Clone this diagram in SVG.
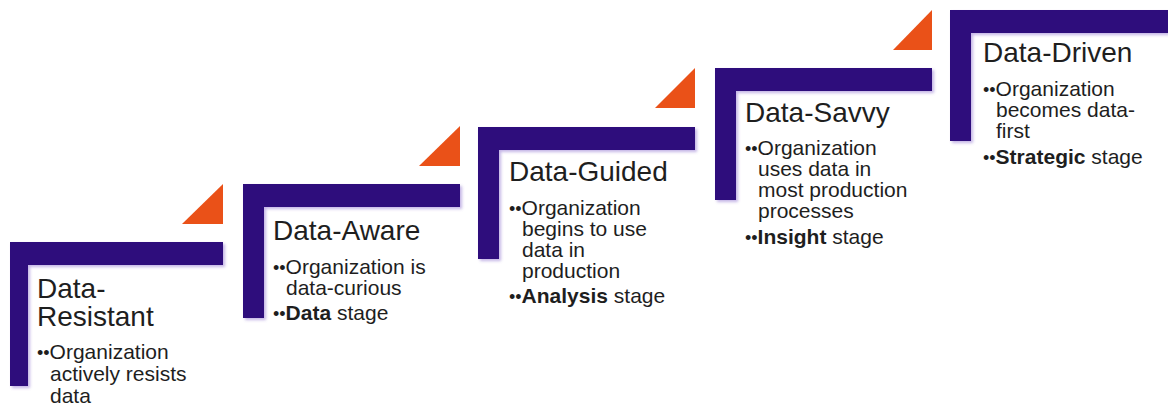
<svg xmlns="http://www.w3.org/2000/svg" width="1168" height="409" viewBox="0 0 1168 409">
  <defs>
    <filter id="sh" x="-10%" y="-10%" width="130%" height="130%">
      <feDropShadow dx="2" dy="2" stdDeviation="1.8" flood-color="#7a5cc8" flood-opacity="0.45"/>
    </filter>
  </defs>
  <style>
    .bar { fill: #2e0a7c; filter: url(#sh); }
    .tri { fill: #ea5118; }
    .title { font-family: "Liberation Sans", Arial, sans-serif; font-size: 28px; fill: #1e1e1e; }
    .body { font-family: "Liberation Sans", Arial, sans-serif; font-size: 21px; fill: #1e1e1e; }
    .dot { font-size: 18px; }
    .b { font-weight: bold; }
  </style>
  <rect width="1168" height="409" fill="#ffffff"/>

  <g id="step1">
    <path class="bar" d="M10,242 H223 V265 H28 V386 H10 Z"/>
    <polygon class="tri" points="182,224 223,224 223,184"/>
    <text class="title" x="37" y="298">Data-</text>
    <text class="title" x="37" y="326">Resistant</text>
    <text class="body" x="37" y="359"><tspan class="dot">••</tspan>Organization</text>
    <text class="body" x="50" y="381">actively resists</text>
    <text class="body" x="50" y="403">data</text>
  </g>

  <g id="step2">
    <path class="bar" d="M243,184 H460 V207 H264 V318 H243 Z"/>
    <polygon class="tri" points="419,166 460,166 460,126"/>
    <text class="title" x="273" y="240">Data-Aware</text>
    <text class="body" x="273" y="274"><tspan class="dot">••</tspan>Organization is</text>
    <text class="body" x="286" y="295">data-curious</text>
    <text class="body" x="273" y="320"><tspan class="dot">••</tspan><tspan class="b">Data</tspan> stage</text>
  </g>

  <g id="step3">
    <path class="bar" d="M478,127 H695 V150 H499 V259 H478 Z"/>
    <polygon class="tri" points="655,108 695,108 695,68"/>
    <text class="title" x="509" y="181">Data-Guided</text>
    <text class="body" x="509" y="215"><tspan class="dot">••</tspan>Organization</text>
    <text class="body" x="522" y="236">begins to use</text>
    <text class="body" x="522" y="257">data in</text>
    <text class="body" x="522" y="278">production</text>
    <text class="body" x="509" y="303"><tspan class="dot">••</tspan><tspan class="b">Analysis</tspan> stage</text>
  </g>

  <g id="step4">
    <path class="bar" d="M715,68 H932 V91 H736 V200 H715 Z"/>
    <polygon class="tri" points="893,50 932,50 932,10"/>
    <text class="title" x="745" y="122">Data-Savvy</text>
    <text class="body" x="745" y="155"><tspan class="dot">••</tspan>Organization</text>
    <text class="body" x="758" y="176">uses data in</text>
    <text class="body" x="758" y="197">most production</text>
    <text class="body" x="758" y="218">processes</text>
    <text class="body" x="745" y="244"><tspan class="dot">••</tspan><tspan class="b">Insight</tspan> stage</text>
  </g>

  <g id="step5">
    <path class="bar" d="M950,10 H1168 V33 H971 V141 H950 Z"/>
    <text class="title" x="983" y="62">Data-Driven</text>
    <text class="body" x="983" y="96"><tspan class="dot">••</tspan>Organization</text>
    <text class="body" x="996" y="117">becomes data-</text>
    <text class="body" x="996" y="138">first</text>
    <text class="body" x="983" y="164"><tspan class="dot">••</tspan><tspan class="b">Strategic</tspan> stage</text>
  </g>

  <g id="connectors"></g>
</svg>
